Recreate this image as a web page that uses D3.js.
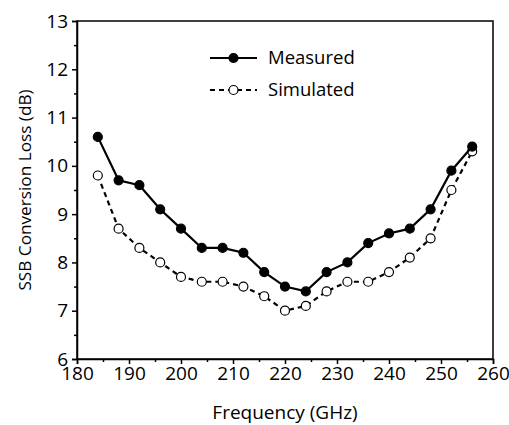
<!DOCTYPE html>
<html>
<head>
<meta charset="utf-8">
<script src="https://cdn.jsdelivr.net/npm/d3@7"></script>
<style>
  body { margin: 0; background: #fff; }
  text { font-family: "Open Sans", "Noto Sans", sans-serif; fill: #000; }
</style>
</head>
<body>
<svg id="chart"></svg>
<script>
const chartWidth = 509;
const chartHeight = 425;
const margin = {top: 21, right: 16, bottom: 66, left: 77};
const innerWidth = chartWidth - margin.left - margin.right;
const innerHeight = chartHeight - margin.top - margin.bottom;

const frequency = [184, 188, 192, 196, 200, 204, 208, 212, 216, 220, 224, 228, 232, 236, 240, 244, 248, 252, 256];
const measured = [10.6, 9.7, 9.6, 9.1, 8.7, 8.3, 8.3, 8.2, 7.8, 7.5, 7.4, 7.8, 8.0, 8.4, 8.6, 8.7, 9.1, 9.9, 10.4];
const simulated = [9.8, 8.7, 8.3, 8.0, 7.7, 7.6, 7.6, 7.5, 7.3, 7.0, 7.1, 7.4, 7.6, 7.6, 7.8, 8.1, 8.5, 9.5, 10.3];

const xTicks = [180, 190, 200, 210, 220, 230, 240, 250, 260];
const yTicks = [6, 7, 8, 9, 10, 11, 12, 13];

const X_LABEL = "Frequency (GHz)";
const Y_LABEL = "SSB Conversion Loss (dB)";

let xScale = d3.scaleLinear().domain([180, 260]).range([0, innerWidth]);
let yScale = d3.scaleLinear().domain([6, 13]).range([innerHeight, 0]);

let chartSvg = d3.select("#chart")
    .attr("width", chartWidth)
    .attr("height", chartHeight);
let chartG = chartSvg.append("g")
    .attr("transform", `translate(${margin.left}, ${margin.top})`);

// frame
chartG.append("rect")
    .attr("x", 0).attr("y", 0)
    .attr("width", innerWidth).attr("height", innerHeight)
    .attr("fill", "none").attr("stroke", "#000").attr("stroke-width", 1.5);

// minor ticks
let xMinor = d3.range(185, 260, 10);
let yMinor = d3.range(6.5, 13, 1);

chartG.append("g")
    .attr("transform", `translate(0,${innerHeight})`)
    .call(d3.axisBottom(xScale).tickValues(xMinor).tickSize(3).tickFormat(""))
    .call(g => g.select(".domain").remove())
    .selectAll("line").attr("stroke-width", 1.5);

chartG.append("g")
    .call(d3.axisLeft(yScale).tickValues(yMinor).tickSize(3).tickFormat(""))
    .call(g => g.select(".domain").remove())
    .selectAll("line").attr("stroke-width", 1.5);

// major axes
let xAxis = chartG.append("g")
    .attr("transform", `translate(0,${innerHeight})`)
    .call(d3.axisBottom(xScale).tickValues(xTicks).tickFormat(d3.format("d")).tickSize(5).tickPadding(3));
xAxis.select(".domain").attr("stroke-width", 1.5);
xAxis.selectAll("line").attr("stroke-width", 1.5);
xAxis.selectAll("text").attr("font-size", 19).style("font-size", "19px");

let yAxis = chartG.append("g")
    .call(d3.axisLeft(yScale).tickValues(yTicks).tickFormat(d3.format("d")).tickSize(5).tickPadding(4));
yAxis.select(".domain").attr("stroke-width", 1.5);
yAxis.selectAll("line").attr("stroke-width", 1.5);
yAxis.selectAll("text").attr("font-size", 19).style("font-size", "19px");

// labels
chartSvg.append("text")
    .attr("x", margin.left + innerWidth / 2)
    .attr("y", 419)
    .attr("text-anchor", "middle")
    .style("font-size", "19px")
    .text(X_LABEL);

chartSvg.append("text")
    .attr("transform", `translate(31, ${margin.top + innerHeight / 2}) rotate(-90)`)
    .attr("text-anchor", "middle")
    .style("font-size", "17.2px")
    .text(Y_LABEL);

// series
let series = [
    {name: "Measured", values: measured, dash: null, fill: "#000"},
    {name: "Simulated", values: simulated, dash: "5,4", fill: "#fff"}
];

let line = d3.line()
    .x((d, i) => xScale(frequency[i]))
    .y(d => yScale(d));

for (let s of series.slice().reverse()) {
    chartG.append("path")
        .datum(s.values)
        .attr("fill", "none")
        .attr("stroke", "#000")
        .attr("stroke-width", 2.2)
        .attr("stroke-dasharray", s.dash)
        .attr("d", line);
    chartG.selectAll(null)
        .data(s.values)
        .enter().append("circle")
        .attr("cx", (d, i) => xScale(frequency[i]))
        .attr("cy", d => yScale(d))
        .attr("r", 4.5)
        .attr("fill", s.fill)
        .attr("stroke", "#000")
        .attr("stroke-width", 1.2);
}

// legend
let legend = chartSvg.append("g");
series.forEach((s, i) => {
    let y = 58 + i * 32;
    legend.append("line")
        .attr("x1", 210).attr("x2", 257)
        .attr("y1", y).attr("y2", y)
        .attr("stroke", "#000").attr("stroke-width", 2.2)
        .attr("stroke-dasharray", s.dash);
    legend.append("circle")
        .attr("cx", 233.5).attr("cy", y).attr("r", 4.5)
        .attr("fill", s.fill).attr("stroke", "#000").attr("stroke-width", 1.2);
    legend.append("text")
        .attr("x", 268).attr("y", y + 6)
        .style("font-size", "18.5px")
        .text(s.name);
});
</script>
</body>
</html>
